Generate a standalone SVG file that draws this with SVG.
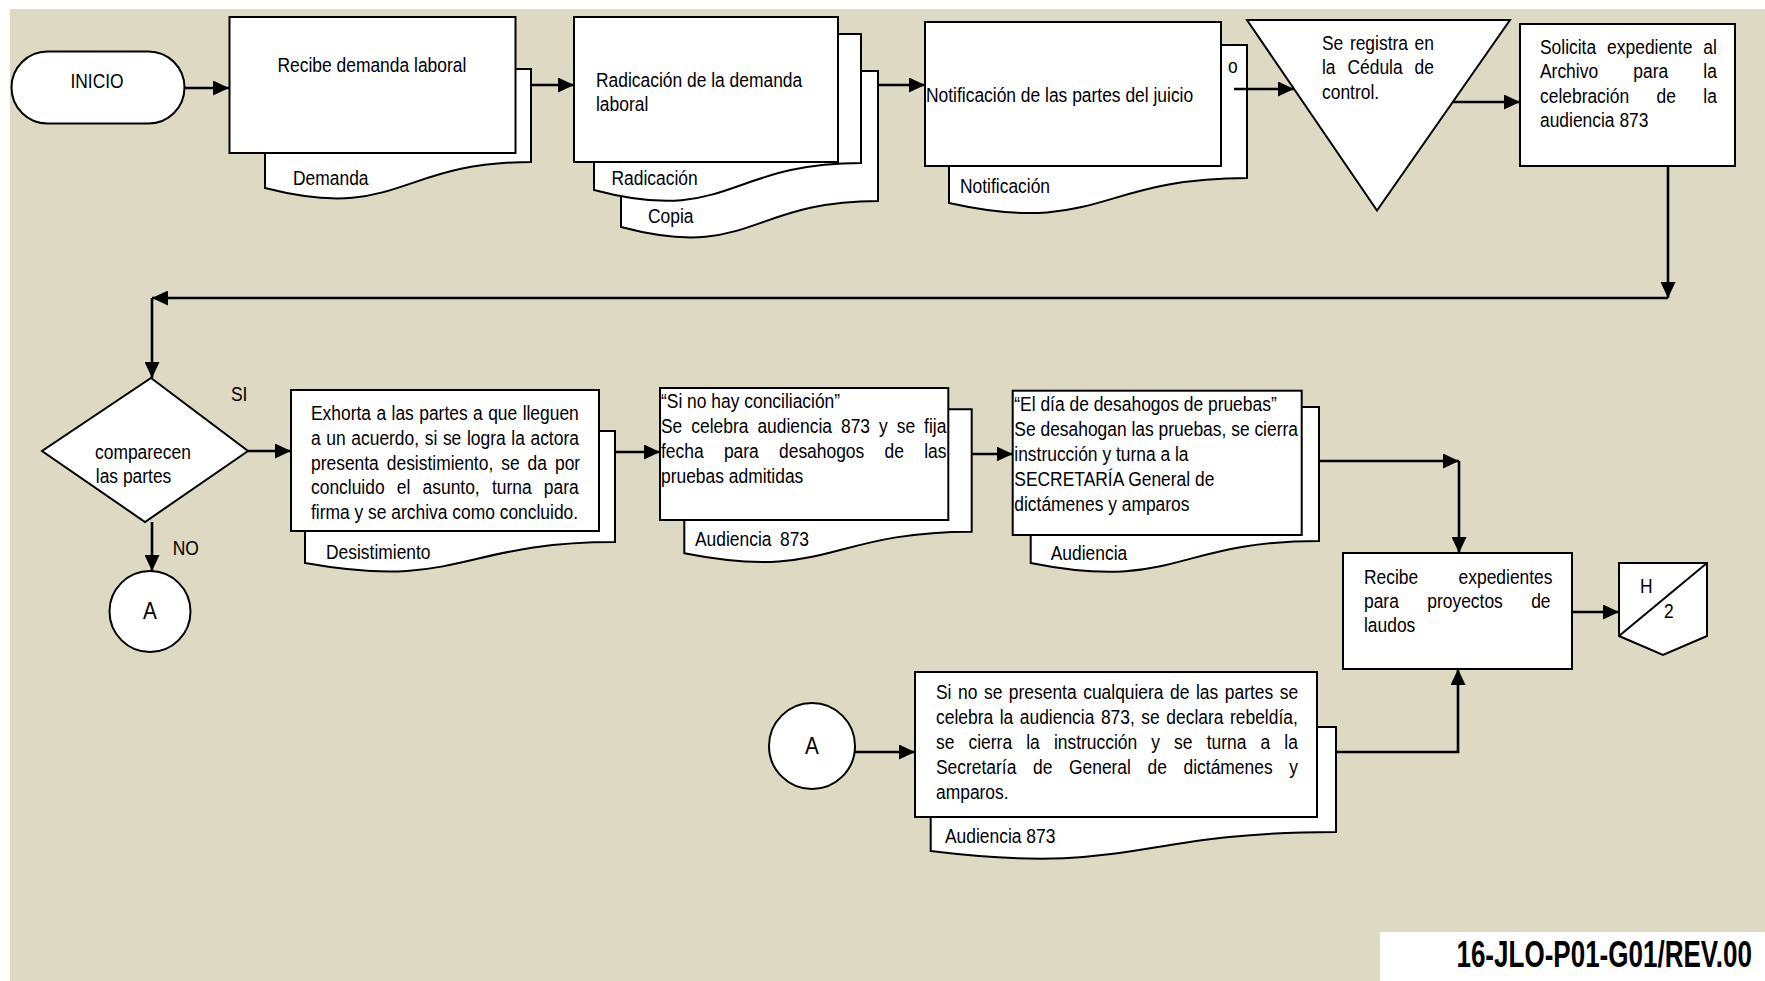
<svg xmlns="http://www.w3.org/2000/svg" width="1765" height="981" viewBox="0 0 1765 981">
<defs>
<style>
.bg{fill:#DDD9C3}
.s{fill:#fff;stroke:#000;stroke-width:2}
.t{font-family:"Liberation Sans",Arial,sans-serif;font-size:21px;fill:#000}
.code{font-family:"Liberation Sans",Arial,sans-serif;font-size:36px;font-weight:bold;fill:#000}
.c{fill:none;stroke:#000;stroke-width:2.6}
</style>
<marker id="ah" viewBox="0 0 16 15" refX="16" refY="7.5" markerWidth="16" markerHeight="15" markerUnits="userSpaceOnUse" orient="auto">
<path d="M0,0 L16,7.5 L0,15 Z" fill="#000"/>
</marker>
</defs>
<rect x="0" y="0" width="1765" height="981" fill="#fff"/>
<rect class="bg" x="10" y="9" width="1755" height="972"/>
<rect x="1380" y="932" width="385" height="49" fill="#fff"/>

<g id="inicio">
<rect class="s" x="11.5" y="51.5" width="173" height="72" rx="36" ry="36"/>
<text class="t" transform="translate(97,0) scale(0.83,1)" text-anchor="middle"><tspan x="0" y="88">INICIO</tspan></text>
</g>

<g id="recibe-demanda">
<path class="s" d="M265,69 H531 V162 C398,162 398,222 265,188 Z"/>
<text class="t" transform="translate(293,0) scale(0.83,1)"><tspan x="0" y="185">Demanda</tspan></text>
<rect class="s" x="229.5" y="17" width="286" height="136"/>
<text class="t" transform="translate(277.5,0) scale(0.83,1)"><tspan x="0" y="72">Recibe demanda laboral</tspan></text>
</g>

<g id="radicacion">
<path class="s" d="M621,71 H878 V201 C749.5,201 749.5,261 621,227 Z"/>
<text class="t" transform="translate(648,0) scale(0.83,1)"><tspan x="0" y="223">Copia</tspan></text>
<path class="s" d="M594,34 H861 V163 C727.5,163 727.5,225.5 594,190 Z"/>
<text class="t" transform="translate(611.5,0) scale(0.83,1)"><tspan x="0" y="185">Radicación</tspan></text>
<rect class="s" x="574" y="17" width="264" height="145"/>
<text class="t" transform="translate(596,0) scale(0.83,1)"><tspan x="0" y="87">Radicación de la demanda</tspan><tspan x="0" y="111">laboral</tspan></text>
</g>

<g id="notificacion">
<path class="s" d="M949,45 H1247 V178 C1098,178 1098,236 949,203 Z"/>
<text class="t" transform="translate(960,0) scale(0.83,1)"><tspan x="0" y="193">Notificación</tspan></text>
<text class="t" transform="translate(1228,0) scale(0.83,1)"><tspan x="0" y="73">o</tspan></text>
<rect class="s" x="925" y="22" width="296" height="144"/>
<text class="t" transform="translate(926,0) scale(0.83,1)"><tspan x="0" y="102">Notificación de las partes del juicio</tspan></text>
</g>

<g id="registro">
<path class="s" d="M1247,20 L1510,20 L1377,210.5 Z"/>
<text class="t" transform="translate(1322,0) scale(0.83,1)"><tspan x="0" y="50" word-spacing="2.1">Se registra en</tspan><tspan x="0" y="74.5" word-spacing="8.5">la Cédula de</tspan><tspan x="0" y="99">control.</tspan></text>
</g>

<g id="solicita">
<rect class="s" x="1520" y="24" width="215" height="142"/>
<text class="t" transform="translate(1540,0) scale(0.83,1)"><tspan x="0" y="54" word-spacing="7.4">Solicita expediente al</tspan><tspan x="0" y="78.5" word-spacing="36.6">Archivo para la</tspan><tspan x="0" y="103" word-spacing="27.2">celebración de la</tspan><tspan x="0" y="127.5">audiencia 873</tspan></text>
</g>

<g id="comparecen">
<path class="s" d="M151,378 L248,451 L145,522 L42,451 Z"/>
<text class="t" transform="translate(95,0) scale(0.83,1)"><tspan x="0" y="459">comparecen</tspan><tspan x="1" y="483">las partes</tspan></text>
<text class="t" transform="translate(231,0) scale(0.83,1)"><tspan x="0" y="401">SI</tspan></text>
<text class="t" transform="translate(172.7,0) scale(0.83,1)"><tspan x="0" y="555">NO</tspan></text>
</g>

<g id="conector-a1">
<circle class="s" cx="150" cy="611.5" r="40.5"/>
<text class="t" style="font-size:23px" transform="translate(150,0) scale(0.9,1)" text-anchor="middle"><tspan x="0" y="619">A</tspan></text>
</g>

<g id="exhorta">
<path class="s" d="M305,431 H615 V542 C460,542 460,590.6 305,563 Z"/>
<text class="t" transform="translate(326,0) scale(0.83,1)"><tspan x="0" y="559">Desistimiento</tspan></text>
<rect class="s" x="291" y="390" width="308" height="141"/>
<text class="t" transform="translate(311,0) scale(0.83,1)"><tspan x="0" y="420" word-spacing="0.7">Exhorta a las partes a que lleguen</tspan><tspan x="0" y="444.8" word-spacing="0.95">a un acuerdo, si se logra la actora</tspan><tspan x="0" y="469.6" word-spacing="3.8">presenta desistimiento, se da por</tspan><tspan x="0" y="494.4" word-spacing="8.9">concluido el asunto, turna para</tspan><tspan x="0" y="519.2">firma y se archiva como concluido.</tspan></text>
</g>

<g id="audiencia-873">
<path class="s" d="M684.3,409.3 H971.7 V531.7 C828,531.7 828,581.7 684.3,553.3 Z"/>
<text class="t" transform="translate(695,0) scale(0.83,1)"><tspan x="0" y="546">Audiencia</tspan><tspan x="102.4" y="546">873</tspan></text>
<rect class="s" x="660" y="388" width="288.3" height="132"/>
<text class="t" transform="translate(661,0) scale(0.83,1)"><tspan x="0" y="408.3">“Si no hay conciliación”</tspan><tspan x="0" y="433" word-spacing="5">Se celebra audiencia 873 y se fija</tspan><tspan x="0" y="457.8" word-spacing="18.6">fecha para desahogos de las</tspan><tspan x="0" y="482.6">pruebas admitidas</tspan></text>
</g>

<g id="desahogo-pruebas">
<path class="s" d="M1030.7,407 H1319 V541 C1174.85,541 1174.85,591.9 1030.7,563 Z"/>
<text class="t" transform="translate(1050.7,0) scale(0.83,1)"><tspan x="0" y="560">Audiencia</tspan></text>
<rect class="s" x="1012.7" y="390.7" width="289" height="144.3"/>
<text class="t" transform="translate(1014.3,0) scale(0.83,1)"><tspan x="0" y="411.5">“El día de desahogos de pruebas”</tspan><tspan x="0" y="436.3">Se desahogan las pruebas, se cierra</tspan><tspan x="0" y="461.1">instrucción y turna a la</tspan><tspan x="0" y="485.9">SECRETARÍA General de</tspan><tspan x="0" y="510.7">dictámenes y amparos</tspan></text>
</g>

<g id="recibe-expedientes">
<rect class="s" x="1343" y="553" width="229" height="116"/>
<text class="t" transform="translate(1364,0) scale(0.83,1)"><tspan x="0" y="584" word-spacing="42.8">Recibe expedientes</tspan><tspan x="0" y="608" word-spacing="28.4">para proyectos de</tspan><tspan x="0" y="632">laudos</tspan></text>
</g>

<g id="conector-h2">
<path class="s" d="M1619,563 H1707 V636 L1663,655 L1619,636 Z"/>
<line x1="1619" y1="636" x2="1707" y2="563" stroke="#000" stroke-width="2"/>
<text class="t" transform="translate(1640,0) scale(0.83,1)"><tspan x="0" y="593">H</tspan></text>
<text class="t" transform="translate(1664,0) scale(0.83,1)"><tspan x="0" y="618">2</tspan></text>
</g>

<g id="conector-a2">
<circle class="s" cx="812" cy="746" r="43"/>
<text class="t" style="font-size:23px" transform="translate(812,0) scale(0.9,1)" text-anchor="middle"><tspan x="0" y="754">A</tspan></text>
</g>

<g id="rebeldia">
<path class="s" d="M930.7,727 H1336 V832 C1133.35,832 1133.35,876 930.7,851 Z"/>
<text class="t" transform="translate(945,0) scale(0.83,1)"><tspan x="0" y="843">Audiencia 873</tspan></text>
<rect class="s" x="915" y="672" width="402" height="145"/>
<text class="t" transform="translate(936,0) scale(0.83,1)"><tspan x="0" y="699" word-spacing="2.05">Si no se presenta cualquiera de las partes se</tspan><tspan x="0" y="724" word-spacing="2.07">celebra la audiencia 873, se declara rebeldía,</tspan><tspan x="0" y="749" word-spacing="11.2">se cierra la instrucción y se turna a la</tspan><tspan x="0" y="774" word-spacing="14.2">Secretaría de General de dictámenes y</tspan><tspan x="0" y="799">amparos.</tspan></text>
</g>

<g id="codigo">
<text class="code" transform="translate(1752,0) scale(0.723,1)" text-anchor="end"><tspan x="0" y="967">16-JLO-P01-G01/REV.00</tspan></text>
</g>

<g id="connectors">
<path class="c" d="M185,88 H229" marker-end="url(#ah)"/>
<path class="c" d="M531,85 H574" marker-end="url(#ah)"/>
<path class="c" d="M878,85 H925" marker-end="url(#ah)"/>
<path class="c" d="M1234,89 H1294" marker-end="url(#ah)"/>
<path class="c" d="M1453,102 H1520" marker-end="url(#ah)"/>
<path class="c" d="M1668,166 V298" marker-end="url(#ah)"/>
<path class="c" d="M1668,298 H152" marker-end="url(#ah)"/>
<path class="c" d="M152,298 V378" marker-end="url(#ah)"/>
<path class="c" d="M248,451 H291" marker-end="url(#ah)"/>
<path class="c" d="M152,522 V571" marker-end="url(#ah)"/>
<path class="c" d="M615,452 H660" marker-end="url(#ah)"/>
<path class="c" d="M971.7,454 H1012.7" marker-end="url(#ah)"/>
<path class="c" d="M1319,461 H1459" marker-end="url(#ah)"/>
<path class="c" d="M1459,461 V553" marker-end="url(#ah)"/>
<path class="c" d="M855,752 H915" marker-end="url(#ah)"/>
<path class="c" d="M1336,752 H1458 V669" marker-end="url(#ah)"/>
<path class="c" d="M1572,612 H1619" marker-end="url(#ah)"/>
</g>
</svg>
